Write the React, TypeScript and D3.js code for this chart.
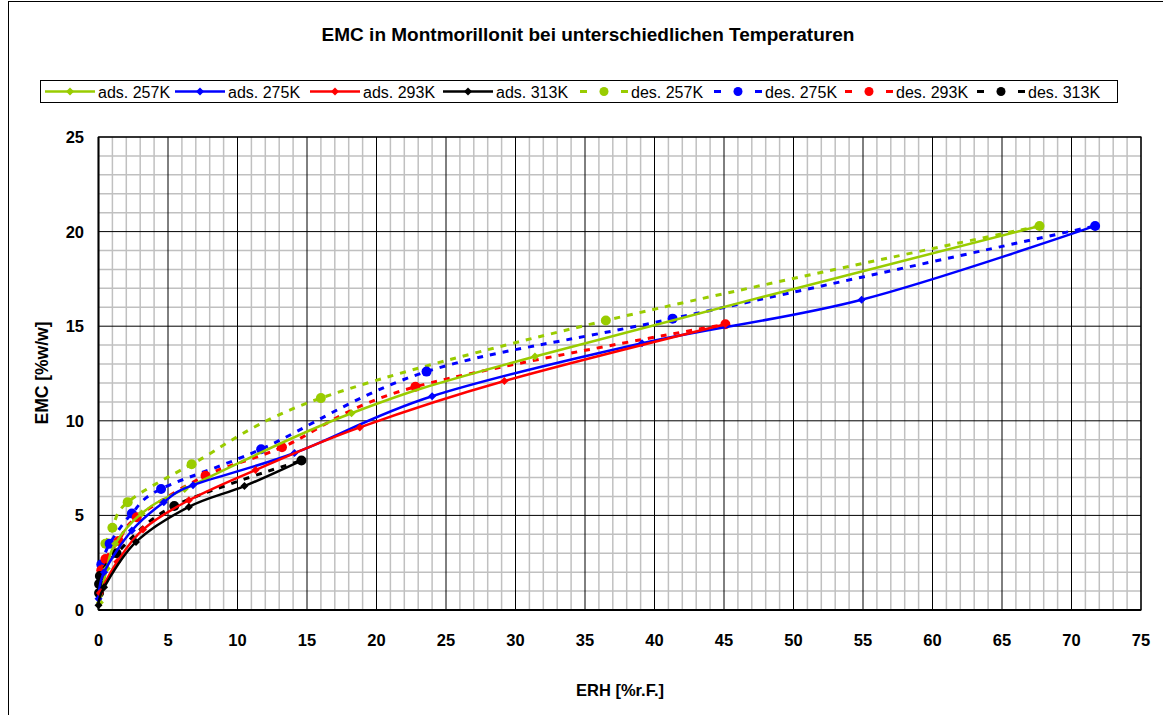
import React from "react";
import * as d3 from "d3";

type Pt = [number, number];

const adsLabels = ["ads. 257K", "ads. 275K", "ads. 293K", "ads. 313K"];
const desLabels = ["des. 257K", "des. 275K", "des. 293K", "des. 313K"];
const colors = ["#99CC00", "#0000FF", "#FF0000", "#000000"];

const ads257: Pt[] = [[0.1, 0.4], [0.6, 2.2], [1.2, 3.5], [3.1, 5.1], [6.2, 6.4], [18.2, 10.4], [31.4, 13.4], [67.7, 20.3]];
const ads275: Pt[] = [[0.0, 0.6], [0.4, 2.0], [2.4, 4.2], [4.7, 5.7], [6.8, 6.6], [14.1, 8.3], [24.0, 11.3], [39.1, 14.1], [54.9, 16.4], [71.7, 20.3]];
const ads293: Pt[] = [[0.1, 0.9], [1.35, 2.55], [3.2, 4.25], [6.5, 5.8], [11.3, 7.4], [18.8, 9.65], [29.2, 12.1], [45.1, 15.1]];
const ads313: Pt[] = [[0.0, 0.25], [0.4, 1.2], [2.7, 3.6], [6.5, 5.45], [10.5, 6.55], [14.6, 7.9]];

const des257: Pt[] = [[0.5, 3.5], [1.0, 4.35], [2.1, 5.7], [6.7, 7.7], [16.0, 11.2], [36.5, 15.3], [67.7, 20.3]];
const des275: Pt[] = [[0.2, 2.4], [0.8, 3.5], [2.4, 5.1], [4.5, 6.4], [11.7, 8.5], [23.6, 12.6], [41.3, 15.4], [71.7, 20.3]];
const des293: Pt[] = [[0.2, 2.1], [0.5, 2.7], [1.45, 3.65], [2.75, 4.9], [7.7, 7.1], [13.2, 8.6], [22.8, 11.8], [45.1, 15.1]];
const des313: Pt[] = [[0.04, 0.9], [0.04, 1.37], [0.1, 1.8], [1.3, 3.0], [5.45, 5.5], [14.6, 7.9]];

const adsSeries = [ads257, ads275, ads293, ads313];
const desSeries = [des257, des275, des293, des313];

const xTicks = d3.range(0, 76, 5);
const yTicks = d3.range(0, 26, 5);

const W = 1163, H = 715;
const L = 98.5, R = 1141, T = 137, B = 610;

export default function App() {
  const x = d3.scaleLinear().domain([0, 75]).range([L, R]);
  const y = d3.scaleLinear().domain([0, 25]).range([B, T]);
  const line = d3.line<Pt>().x(d => x(d[0])).y(d => y(d[1])).curve(d3.curveCardinal.tension(0));

  const minorX = d3.range(0, 76, 1).filter(v => v % 5 !== 0);
  const minorY = d3.range(0, 26, 1).filter(v => v % 5 !== 0);

  const diamond = (cx: number, cy: number, s: number) =>
    `M${cx},${cy - s}L${cx + s},${cy}L${cx},${cy + s}L${cx - s},${cy}Z`;

  const legendItems = [
    ...adsLabels.map((l, i) => ({ label: l, color: colors[i], dashed: false })),
    ...desLabels.map((l, i) => ({ label: l, color: colors[i], dashed: true })),
  ];
  const legX = [45, 175, 310, 443, 578, 712, 843, 975];

  const font = "Arial, 'Liberation Sans', Helvetica, sans-serif";

  return (
    <svg width={W} height={H} style={{ position: "absolute", left: 0, top: 0, background: "#fff" }} fontFamily={font}>
      <rect x={0} y={0} width={W} height={H} fill="#fff" />
      <rect x={8.5} y={1.5} width={1300} height={900} fill="none" stroke="#000" strokeWidth={1} />
      <text x={588} y={41} textAnchor="middle" fontWeight="bold" fontSize={19}>
        EMC in Montmorillonit bei unterschiedlichen Temperaturen
      </text>

      {/* Legend */}
      <rect x={40.5} y={80.5} width={1077} height={22} fill="#fff" stroke="#000" strokeWidth={1} />
      {legendItems.map((it, i) => {
        const x0 = legX[i];
        const cy = 91.5;
        return (
          <g key={it.label}>
            {it.dashed ? (
              <>
                <line x1={x0 + 2} x2={x0 + 9} y1={cy} y2={cy} stroke={it.color} strokeWidth={3} />
                <line x1={x0 + 43} x2={x0 + 50} y1={cy} y2={cy} stroke={it.color} strokeWidth={3} />
                <circle cx={x0 + 26} cy={cy} r={4.5} fill={it.color} />
              </>
            ) : (
              <>
                <line x1={x0} x2={x0 + 50} y1={cy} y2={cy} stroke={it.color} strokeWidth={2.5} />
                <path d={diamond(x0 + 25, cy, 4)} fill={it.color} />
              </>
            )}
            <text x={x0 + 53} y={cy + 6} fontSize={16}>{it.label}</text>
          </g>
        );
      })}

      {/* Grid */}
      <rect x={L} y={T} width={R - L} height={B - T} fill="#fff" />
      {minorX.map(v => (
        <line key={"mx" + v} x1={x(v)} x2={x(v)} y1={T} y2={B} stroke="#C0C0C0" strokeWidth={1.5} />
      ))}
      {minorY.map(v => (
        <line key={"my" + v} x1={L} x2={R} y1={y(v)} y2={y(v)} stroke="#C0C0C0" strokeWidth={1.5} />
      ))}
      {xTicks.map(v => (
        <line key={"Mx" + v} x1={x(v)} x2={x(v)} y1={T} y2={B} stroke="#000" strokeWidth={1} />
      ))}
      {yTicks.map(v => (
        <line key={"My" + v} x1={L} x2={R} y1={y(v)} y2={y(v)} stroke="#000" strokeWidth={1} />
      ))}
      <rect x={L} y={T} width={R - L} height={B - T} fill="none" stroke="#000" strokeWidth={1.2} />
      <line x1={L} x2={R} y1={B} y2={B} stroke="#000" strokeWidth={2} />
      <line x1={L} x2={L} y1={T} y2={B} stroke="#000" strokeWidth={2} />

      {/* Series: desorption (dashed) */}
      {desSeries.map((s, i) => (
        <g key={"des" + i}>
          <path d={line(s) || ""} fill="none" stroke={colors[i]} strokeWidth={3} strokeDasharray="6,7" />
          {s.map((p, j) => (
            <circle key={j} cx={x(p[0])} cy={y(p[1])} r={5} fill={colors[i]} />
          ))}
        </g>
      ))}
      {/* Series: adsorption (solid) */}
      {adsSeries.map((s, i) => (
        <g key={"ads" + i}>
          <path d={line(s) || ""} fill="none" stroke={colors[i]} strokeWidth={2.5} />
          {s.map((p, j) => (
            <path key={j} d={diamond(x(p[0]), y(p[1]), 4)} fill={colors[i]} />
          ))}
        </g>
      ))}

      {/* Tick labels */}
      {xTicks.map(v => (
        <text key={"xt" + v} x={x(v)} y={646} textAnchor="middle" fontWeight="bold" fontSize={16.5}>{v}</text>
      ))}
      {yTicks.map(v => (
        <text key={"yt" + v} x={84} y={y(v) + 6} textAnchor="end" fontWeight="bold" fontSize={16.5}>{v}</text>
      ))}

      <text x={620} y={696} textAnchor="middle" fontWeight="bold" fontSize={16.5}>ERH [%r.F.]</text>
      <text transform={`translate(48,${373}) rotate(-90)`} textAnchor="middle" fontWeight="bold" fontSize={17.5}>EMC [%w/w]</text>
    </svg>
  );
}
